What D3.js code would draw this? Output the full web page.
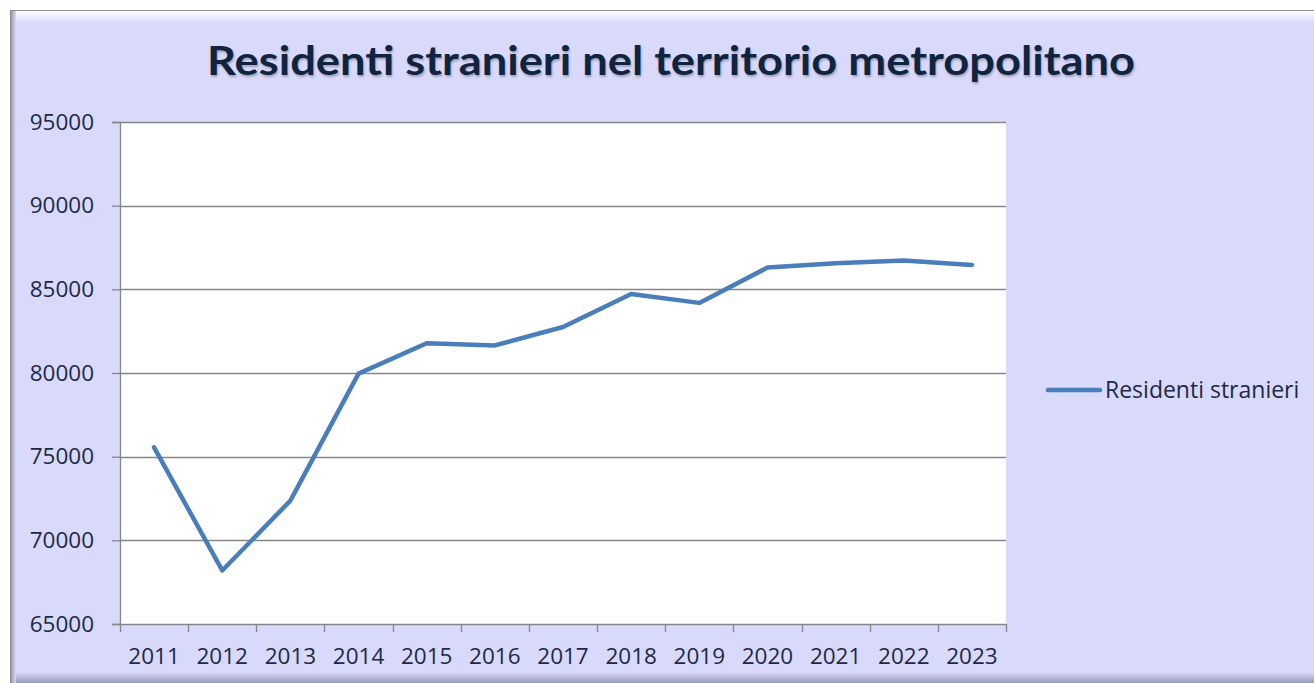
<!DOCTYPE html>
<html>
<head>
<meta charset="utf-8">
<script src="https://cdn.jsdelivr.net/npm/d3@7"></script>
<style>
  body { margin: 0; background: #ffffff; }
  svg { display: block; }
</style>
</head>
<body>
<div id="container"></div>
<script>
// chart values
const years = ["2011","2012","2013","2014","2015","2016","2017","2018","2019","2020","2021","2022","2023"];
const residents = [75560, 68200, 72370, 79960, 81780, 81650, 82750, 84720, 84190, 86300, 86560, 86720, 86460];
const yTicks = [65000, 70000, 75000, 80000, 85000, 90000, 95000];
const seriesName = "Residenti stranieri";
const title = "Residenti stranieri nel territorio metropolitano";

const width = 1314;
const height = 683;
const plot = {left: 120, right: 1006, top: 122, bottom: 624};

const svg = d3.select("#container")
  .append("svg")
  .attr("width", width)
  .attr("height", height);

const defs = svg.append("defs");
const topGrad = defs.append("linearGradient").attr("id", "topBevel")
  .attr("x1", 0).attr("y1", 0).attr("x2", 0).attr("y2", 1);
topGrad.append("stop").attr("offset", "0%").attr("stop-color", "#ffffff");
topGrad.append("stop").attr("offset", "100%").attr("stop-color", "#d9d9fc");
const botGrad = defs.append("linearGradient").attr("id", "botBevel")
  .attr("x1", 0).attr("y1", 0).attr("x2", 0).attr("y2", 1);
botGrad.append("stop").attr("offset", "0%").attr("stop-color", "#d9d9fc");
botGrad.append("stop").attr("offset", "100%").attr("stop-color", "#9a9ab8");
const leftGrad = defs.append("linearGradient").attr("id", "leftBevel")
  .attr("x1", 0).attr("y1", 0).attr("x2", 1).attr("y2", 0);
leftGrad.append("stop").attr("offset", "0%").attr("stop-color", "#8c8ca0");
leftGrad.append("stop").attr("offset", "100%").attr("stop-color", "#d9d9fc");

// chart area with bevel
svg.append("rect").attr("x", 10).attr("y", 10).attr("width", width).attr("height", height)
  .attr("fill", "#d9d9fc");
svg.append("rect").attr("x", 10).attr("y", 11).attr("width", width).attr("height", 12)
  .attr("fill", "url(#topBevel)");
svg.append("rect").attr("x", 10).attr("y", 672).attr("width", width).attr("height", 11)
  .attr("fill", "url(#botBevel)");
svg.append("rect").attr("x", 10).attr("y", 10).attr("width", 6).attr("height", height)
  .attr("fill", "url(#leftBevel)");
svg.append("line").attr("x1", 10).attr("x2", width).attr("y1", 10.5).attr("y2", 10.5)
  .attr("stroke", "#8c8c8c");
svg.append("line").attr("x1", 10.5).attr("x2", 10.5).attr("y1", 10).attr("y2", height)
  .attr("stroke", "#8c8c8c");

// title
svg.append("text")
  .attr("x", 671)
  .attr("y", 75)
  .attr("text-anchor", "middle")
  .attr("font-family", "Lato, 'Open Sans', sans-serif")
  .attr("font-weight", "bold")
  .attr("font-size", 41)
  .attr("fill", "#0f243e")
  .attr("textLength", 928)
  .attr("lengthAdjust", "spacingAndGlyphs")
  .style("text-shadow", "1px 2px 2px rgba(0,0,0,0.25)")
  .text(title);

// scales
const xScale = d3.scaleBand()
  .domain(years)
  .range([plot.left, plot.right]);

const yScale = d3.scaleLinear()
  .domain([65000, 95000])
  .range([plot.bottom, plot.top]);

// plot background
svg.append("rect")
  .attr("x", plot.left).attr("y", plot.top)
  .attr("width", plot.right - plot.left).attr("height", plot.bottom - plot.top)
  .attr("fill", "#ffffff");

// gridlines
svg.append("g")
  .selectAll("line")
  .data(yTicks.slice(1))
  .join("line")
  .attr("x1", plot.left).attr("x2", plot.right)
  .attr("y1", d => Math.round(yScale(d)) + 0.5)
  .attr("y2", d => Math.round(yScale(d)) + 0.5)
  .attr("stroke", "#868686")
  .attr("stroke-width", 1.3);

// y axis
const yAxis = svg.append("g")
  .attr("transform", `translate(${plot.left},0)`)
  .call(d3.axisLeft(yScale).tickValues(yTicks).tickSize(8).tickPadding(18).tickFormat(d3.format("d")));
yAxis.select(".domain").attr("stroke", "#868686").attr("stroke-width", 1.3);
yAxis.selectAll(".tick line").attr("stroke", "#868686").attr("stroke-width", 1.3);
yAxis.selectAll("text")
  .attr("font-family", "'Open Sans', sans-serif")
  .attr("font-size", 22.5)
  .attr("fill", "#1c2a44");

// x axis, ticks at band edges
const xAxis = svg.append("g")
  .attr("transform", `translate(0,${plot.bottom})`)
  .call(d3.axisBottom(xScale).tickSize(0).tickPadding(24));
xAxis.select(".domain").attr("stroke", "#868686").attr("stroke-width", 1.3);
xAxis.selectAll("text")
  .attr("font-family", "'Open Sans', sans-serif")
  .attr("font-size", 22.5)
  .attr("fill", "#1c2a44");
xAxis.selectAll(".edge")
  .data(years.concat(["end"]))
  .join("line")
  .attr("class", "edge")
  .attr("x1", (d, i) => Math.round(plot.left + i * xScale.step()) + 0.5)
  .attr("x2", (d, i) => Math.round(plot.left + i * xScale.step()) + 0.5)
  .attr("y1", 0).attr("y2", 8)
  .attr("stroke", "#868686")
  .attr("stroke-width", 1.3);

// line
const line = d3.line()
  .x((d, i) => xScale(years[i]) + xScale.bandwidth() / 2)
  .y(d => yScale(d));

svg.append("path")
  .datum(residents)
  .attr("d", line)
  .attr("fill", "none")
  .attr("stroke", "#4a7ebb")
  .attr("stroke-width", 4.5)
  .attr("stroke-linejoin", "round")
  .attr("stroke-linecap", "round");

// legend
const legend = svg.append("g").attr("transform", "translate(1048,390)");
legend.append("line")
  .attr("x1", 0).attr("x2", 52).attr("y1", 0).attr("y2", 0)
  .attr("stroke", "#4a7ebb").attr("stroke-width", 4.5).attr("stroke-linecap", "round");
legend.append("text")
  .attr("x", 57).attr("y", 8)
  .attr("font-family", "'Open Sans', sans-serif")
  .attr("font-size", 23)
  .attr("fill", "#1c2a44")
  .text(seriesName);
</script>
</body>
</html>
